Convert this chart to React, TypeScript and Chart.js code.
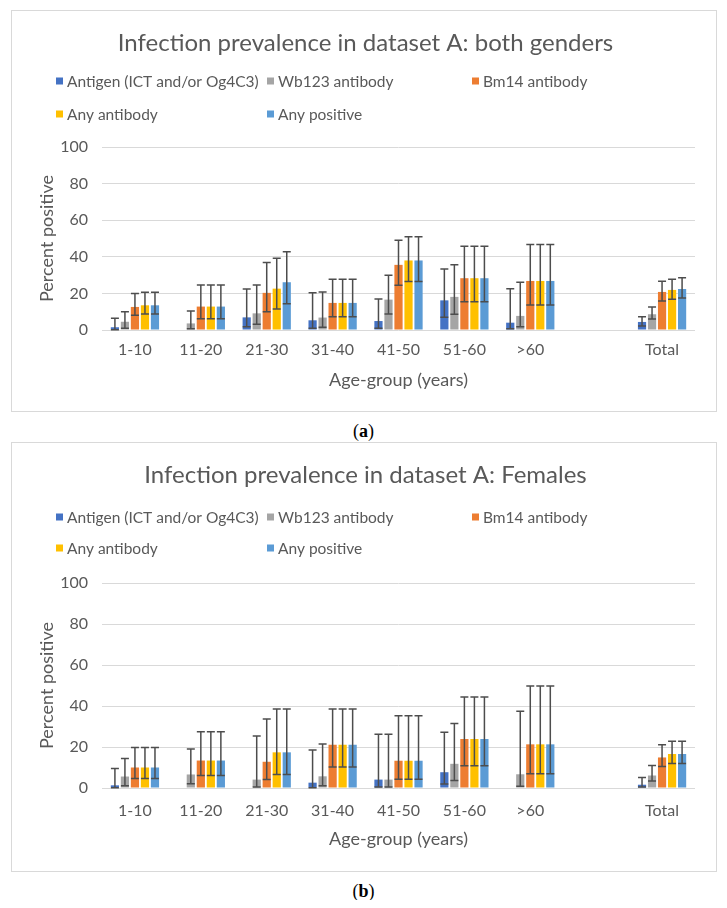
import React, { useEffect, useRef } from "react";
import { Chart, registerables } from "chart.js";

Chart.register(...registerables);

// ---------- data ----------
const CATEGORIES = ["1-10", "11-20", "21-30", "31-40", "41-50", "51-60", ">60", "", "Total"];
const SERIES_NAMES = [
  "Antigen (ICT and/or Og4C3)",
  "Wb123 antibody",
  "Bm14 antibody",
  "Any antibody",
  "Any positive",
];
const SERIES_COLORS = ["#4472C4", "#A5A5A5", "#ED7D31", "#FFC000", "#5B9BD5"];
const Y_MIN = 0;
const Y_MAX = 100;
const Y_STEP = 20;
const X_TITLE = "Age-group (years)";
const Y_TITLE = "Percent positive";

// Panel (a): both genders
const A_TITLE = "Infection prevalence in dataset A: both genders";
const A_ANTIGEN = [1.5, 0, 6.9, 5.3, 4.9, 16.2, 4.0, null, 4.4];
const A_ANTIGEN_LOW = [0.2, null, 1.8, 0.9, 0.9, 6.9, 0.7, null, 2.2];
const A_ANTIGEN_HIGH = [6.4, null, 22.4, 20.3, 17.0, 33.4, 22.6, null, 7.3];
const A_WB123 = [4.5, 3.6, 9.1, 6.8, 16.6, 18.1, 7.7, null, 8.6];
const A_WB123_LOW = [1.0, 0.7, 3.1, 1.5, 8.8, 8.6, 1.8, null, 6.0];
const A_WB123_HIGH = [10.0, 10.4, 24.6, 20.8, 29.9, 35.6, 26.1, null, 12.6];
const A_BM14 = [12.6, 12.8, 20.3, 14.8, 35.6, 28.3, 26.8, null, 20.8];
const A_BM14_LOW = [8.0, 6.2, 10.0, 7.3, 24.5, 15.5, 13.7, null, 15.9];
const A_BM14_HIGH = [20.0, 24.6, 36.9, 27.7, 49.1, 45.8, 46.7, null, 26.6];
const A_ANYAB = [13.5, 12.8, 22.6, 14.8, 38.0, 28.3, 26.8, null, 21.9];
const A_ANYAB_LOW = [8.8, 6.2, 11.5, 7.3, 26.5, 15.5, 13.7, null, 16.8];
const A_ANYAB_HIGH = [20.6, 24.6, 39.2, 27.7, 50.9, 45.8, 46.7, null, 27.7];
const A_ANYPOS = [13.5, 12.8, 26.1, 14.8, 38.0, 28.3, 26.8, null, 22.4];
const A_ANYPOS_LOW = [8.8, 6.2, 14.4, 7.3, 26.5, 15.5, 13.7, null, 17.5];
const A_ANYPOS_HIGH = [20.6, 24.6, 42.7, 27.7, 50.9, 45.8, 46.7, null, 28.6];

// Panel (b): females
const B_TITLE = "Infection prevalence in dataset A: Females";
const B_ANTIGEN = [1.3, 0, 0, 2.6, 4.1, 7.7, 0, null, 1.6];
const B_ANTIGEN_LOW = [0.1, null, null, 0.1, 0.5, 2.0, null, null, 0.5];
const B_ANTIGEN_HIGH = [9.5, null, null, 18.5, 26.2, 27.2, null, null, 5.1];
const B_WB123 = [5.6, 6.6, 4.1, 5.7, 4.1, 11.8, 6.7, null, 6.1];
const B_WB123_LOW = [1.1, 2.1, 0.5, 1.1, 0.5, 3.6, 0.8, null, 3.4];
const B_WB123_HIGH = [14.4, 19.0, 25.4, 21.5, 26.2, 31.5, 37.4, null, 11.0];
const B_BM14 = [10.0, 13.4, 12.8, 21.1, 13.3, 23.9, 21.3, null, 14.9];
const B_BM14_LOW = [4.6, 6.1, 4.1, 10.3, 4.3, 10.8, 6.9, null, 10.5];
const B_BM14_HIGH = [19.8, 27.4, 33.6, 38.5, 35.2, 44.4, 49.8, null, 21.1];
const B_ANYAB = [10.0, 13.4, 17.4, 21.1, 13.3, 23.9, 21.3, null, 16.6];
const B_ANYAB_LOW = [4.6, 6.1, 6.6, 10.3, 4.3, 10.8, 6.9, null, 12.0];
const B_ANYAB_HIGH = [19.8, 27.4, 38.5, 38.5, 35.2, 44.4, 49.8, null, 22.8];
const B_ANYPOS = [10.0, 13.4, 17.4, 21.1, 13.3, 23.9, 21.3, null, 16.6];
const B_ANYPOS_LOW = [4.6, 6.1, 6.6, 10.3, 4.3, 10.8, 6.9, null, 12.0];
const B_ANYPOS_HIGH = [19.8, 27.4, 38.5, 38.5, 35.2, 44.4, 49.8, null, 22.8];

// ---------- style ----------
const FONT = "Lato, 'Open Sans', sans-serif";
const TEXT = "#595959";
const GRID = "#d9d9d9";
const ERR = "#4d4d4d";

type Geom = {
  width: number;
  height: number;
  titleBottom: number;
  xTickLen: number;
  xHeight: number;
  padBottom: number;
  legendRows: number[];
};

const LEGEND_COLS = [44, 255, 460];

function BarPanel(props: {
  title: string;
  values: (number | null)[][];
  lows: (number | null)[][];
  highs: (number | null)[][];
  geom: Geom;
}) {
  const ref = useRef<HTMLCanvasElement>(null);
  useEffect(() => {
    const { title, values, lows, highs, geom } = props;
    const errorBars = {
      id: "errorBars",
      afterDatasetsDraw(chart: any) {
        const ctx = chart.ctx;
        const y = chart.scales.y;
        ctx.save();
        ctx.strokeStyle = ERR;
        ctx.lineWidth = 1.5;
        chart.data.datasets.forEach((_: any, i: number) => {
          const meta = chart.getDatasetMeta(i);
          meta.data.forEach((bar: any, j: number) => {
            const lo = lows[i][j];
            const hi = highs[i][j];
            if (lo == null || hi == null) return;
            const x = bar.x;
            const yl = y.getPixelForValue(lo);
            const yh = y.getPixelForValue(hi);
            const cap = 4;
            ctx.beginPath();
            ctx.moveTo(x, yl);
            ctx.lineTo(x, yh);
            ctx.moveTo(x - cap, yh);
            ctx.lineTo(x + cap, yh);
            ctx.moveTo(x - cap, yl);
            ctx.lineTo(x + cap, yl);
            ctx.stroke();
          });
        });
        ctx.restore();
      },
    };
    const gridLegend = {
      id: "gridLegend",
      afterDraw(chart: any) {
        const ctx = chart.ctx;
        ctx.save();
        ctx.font = `15.5px ${FONT}`;
        ctx.textBaseline = "middle";
        ctx.textAlign = "left";
        chart.data.datasets.forEach((ds: any, i: number) => {
          const row = Math.floor(i / 3);
          const col = i % 3;
          const x = LEGEND_COLS[col];
          const yy = geom.legendRows[row];
          ctx.fillStyle = ds.backgroundColor;
          ctx.fillRect(x, yy - 3.5, 7, 7);
          ctx.fillStyle = TEXT;
          ctx.fillText(ds.label, x + 11, yy + 0.5);
        });
        ctx.restore();
      },
    };
    const chart = new Chart(ref.current as HTMLCanvasElement, {
      type: "bar",
      data: {
        labels: CATEGORIES,
        datasets: SERIES_NAMES.map((name, i) => ({
          label: name,
          data: values[i] as any,
          backgroundColor: SERIES_COLORS[i],
          borderWidth: 0,
          categoryPercentage: 0.76,
          barPercentage: 0.82,
        })),
      },
      options: {
        responsive: false,
        animation: false,
        events: [],
        layout: { padding: { left: 24, right: 21, top: 0, bottom: geom.padBottom } },
        plugins: {
          legend: { display: false },
          tooltip: { enabled: false },
          title: {
            display: true,
            text: title,
            color: TEXT,
            font: { family: FONT, size: 24, weight: "normal" as any },
            padding: { top: 18, bottom: geom.titleBottom },
          },
        },
        scales: {
          x: {
            grid: { display: false, drawTicks: true, tickLength: geom.xTickLen },
            border: { display: false },
            ticks: {
              color: TEXT,
              font: { family: FONT, size: 16 },
              padding: 1,
              maxRotation: 0,
              autoSkip: false,
            },
            title: {
              display: true,
              text: X_TITLE,
              color: TEXT,
              font: { family: FONT, size: 18 },
              padding: { top: 0, bottom: 0 },
            },
            afterFit: (s: any) => {
              s.height = geom.xHeight;
            },
          },
          y: {
            min: Y_MIN,
            max: Y_MAX,
            ticks: {
              stepSize: Y_STEP,
              color: TEXT,
              font: { family: FONT, size: 16 },
              padding: 0,
            },
            grid: {
              color: GRID,
              lineWidth: 1,
              drawTicks: true,
              tickLength: 14,
              tickColor: "rgba(0,0,0,0)",
            },
            border: { display: false },
            title: {
              display: true,
              text: Y_TITLE,
              color: TEXT,
              font: { family: FONT, size: 18 },
              padding: { top: 0, bottom: 0 },
            },
            afterFit: (s: any) => {
              s.width = 66;
            },
          },
        },
      },
      plugins: [errorBars, gridLegend],
    });
    return () => chart.destroy();
  }, []);
  return (
    <canvas
      ref={ref}
      width={props.geom.width}
      height={props.geom.height}
      style={{ display: "block", width: props.geom.width, height: props.geom.height }}
    />
  );
}

const GEOM_A: Geom = {
  width: 704,
  height: 400,
  titleBottom: 89.2,
  xTickLen: 9.5,
  xHeight: 60.8,
  padBottom: 20.2,
  legendRows: [70, 103],
};

const GEOM_B: Geom = {
  width: 704,
  height: 428,
  titleBottom: 93.2,
  xTickLen: 12.5,
  xHeight: 61.8,
  padBottom: 21.2,
  legendRows: [74, 105],
};

const captionStyle: React.CSSProperties = {
  position: "absolute",
  left: 0,
  width: 711,
  textAlign: "center",
  fontFamily: "'Liberation Serif', 'DejaVu Serif', serif",
  fontSize: 18,
  lineHeight: "20px",
  color: "#000",
};

const panelStyle: React.CSSProperties = {
  position: "absolute",
  left: 3,
  width: 706,
  border: `1px solid ${GRID}`,
  boxSizing: "border-box",
  background: "#fff",
};

export default function App() {
  return (
    <div style={{ position: "relative", width: 711, height: 892 }}>
      <div style={{ ...panelStyle, top: 2, height: 402 }}>
        <BarPanel
          title={A_TITLE}
          values={[A_ANTIGEN, A_WB123, A_BM14, A_ANYAB, A_ANYPOS]}
          lows={[A_ANTIGEN_LOW, A_WB123_LOW, A_BM14_LOW, A_ANYAB_LOW, A_ANYPOS_LOW]}
          highs={[A_ANTIGEN_HIGH, A_WB123_HIGH, A_BM14_HIGH, A_ANYAB_HIGH, A_ANYPOS_HIGH]}
          geom={GEOM_A}
        />
      </div>
      <div style={{ ...captionStyle, top: 413 }}>
        (<b>a</b>)
      </div>
      <div style={{ ...panelStyle, top: 434, height: 430 }}>
        <BarPanel
          title={B_TITLE}
          values={[B_ANTIGEN, B_WB123, B_BM14, B_ANYAB, B_ANYPOS]}
          lows={[B_ANTIGEN_LOW, B_WB123_LOW, B_BM14_LOW, B_ANYAB_LOW, B_ANYPOS_LOW]}
          highs={[B_ANTIGEN_HIGH, B_WB123_HIGH, B_BM14_HIGH, B_ANYAB_HIGH, B_ANYPOS_HIGH]}
          geom={GEOM_B}
        />
      </div>
      <div style={{ ...captionStyle, top: 873 }}>
        (<b>b</b>)
      </div>
    </div>
  );
}
